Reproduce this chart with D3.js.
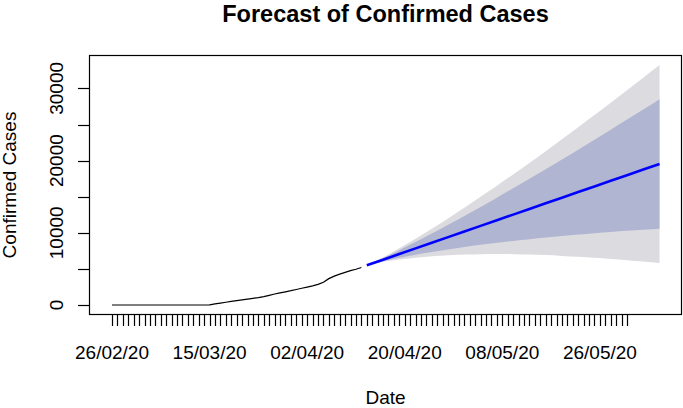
<!DOCTYPE html>
<html>
<head>
<meta charset="utf-8">
<script src="https://cdn.jsdelivr.net/npm/d3@7"></script>
<style>
  body { margin: 0; background: #fff; }
  svg { display: block; font-family: "Liberation Sans", Arial, sans-serif; }
</style>
</head>
<body>
<div id="chart"></div>
<script>
// observed confirmed cases, one per day starting 26/02/20
var startDate = '2020-02-26';
var observed = [
  0, 0, 0, 0, 0, 0, 0, 0, 0, 0, 0, 0, 0, 0, 0, 0, 0, 0,
  30, 150, 260, 380, 500, 600, 700, 810, 920, 1020, 1150, 1330,
  1520, 1680, 1830, 1980, 2150, 2320, 2480, 2650, 2850, 3150,
  3650, 4000, 4280, 4520, 4760, 4950, 5200
];

// forecast, every 3 days starting 13/04/20
var forecastStart = '2020-04-13';
var forecastStep = 3;
var fcMean = [5500, 6280, 7060, 7840, 8620, 9400, 10180, 10960, 11740, 12520, 13300, 14080, 14860, 15640, 16420, 17200, 17980, 18760, 19540];
var hi80 = [5500, 6490, 7580, 8710, 9890, 11100, 12330, 13590, 14870, 16170, 17480, 18810, 20160, 21520, 22890, 24280, 25680, 27090, 28510];
var lo80 = [5500, 6070, 6540, 6970, 7350, 7700, 8030, 8330, 8610, 8880, 9120, 9350, 9560, 9760, 9950, 10120, 10280, 10430, 10570];
var hi95 = [5500, 6600, 7850, 9180, 10560, 11990, 13460, 14980, 16520, 18090, 19680, 21310, 22950, 24620, 26310, 28020, 29740, 31490, 33250];
var lo95 = [5500, 5980, 6300, 6560, 6760, 6900, 6990, 7040, 7060, 7040, 6990, 6910, 6800, 6670, 6530, 6370, 6200, 6010, 5830];

var tickStart = '2020-02-26';
var tickEnd = '2020-05-31';
var labelEvery = 18;
var yTicks = [0, 5000, 10000, 15000, 20000, 25000, 30000];
var yLabels = [0, 10000, 20000, 30000];

var width = 683;
var height = 408;
var font = 19;

var parse = d3.utcParse('%Y-%m-%d');
var fmt = d3.utcFormat('%d/%m/%y');

var obsData = observed.map(function (v, i) {
  return { date: d3.utcDay.offset(parse(startDate), i), value: v };
});
var fcData = fcMean.map(function (v, i) {
  return {
    date: d3.utcDay.offset(parse(forecastStart), i * forecastStep),
    mean: v, hi80: hi80[i], lo80: lo80[i], hi95: hi95[i], lo95: lo95[i]
  };
});

var x = d3.scaleUtc()
  .domain([parse(tickStart), parse(tickEnd)])
  .range([112, 627]);

var y = d3.scaleLinear()
  .domain([0, 30000])
  .range([305, 88.4]);

var svg = d3.select('#chart')
  .append('svg')
  .attr('width', width)
  .attr('height', height);

// prediction bands
var band = function (lo, hi) {
  return d3.area()
    .x(function (d) { return x(d.date); })
    .y0(function (d) { return y(d[lo]); })
    .y1(function (d) { return y(d[hi]); })
    .curve(d3.curveMonotoneX);
};

svg.append('path')
  .datum(fcData)
  .attr('fill', '#dbdbe0')
  .attr('d', band('lo95', 'hi95'));

svg.append('path')
  .datum(fcData)
  .attr('fill', '#b0b5d1')
  .attr('d', band('lo80', 'hi80'));

// observed line
svg.append('path')
  .datum(obsData)
  .attr('fill', 'none')
  .attr('stroke', '#000')
  .attr('stroke-width', 1.2)
  .attr('d', d3.line()
    .x(function (d) { return x(d.date); })
    .y(function (d) { return y(d.value); }));

// forecast mean
svg.append('path')
  .datum(fcData)
  .attr('fill', 'none')
  .attr('stroke', '#0000ff')
  .attr('stroke-width', 2.6)
  .attr('d', d3.line()
    .x(function (d) { return x(d.date); })
    .y(function (d) { return y(d.mean); }));

// plot box
svg.append('rect')
  .attr('x', 89.5)
  .attr('y', 55.5)
  .attr('width', 592)
  .attr('height', 259)
  .attr('fill', 'none')
  .attr('stroke', '#000')
  .attr('stroke-width', 1.2);

// x axis: a tick every day, a label every 18 days
var days = d3.utcDay.range(parse(tickStart), d3.utcDay.offset(parse(tickEnd), 1));
var xAxis = svg.append('g').attr('transform', 'translate(0,315)');

xAxis.selectAll('line')
  .data(days)
  .enter()
  .append('line')
  .attr('x1', function (d) { return Math.round(x(d)) + 0.5; })
  .attr('x2', function (d) { return Math.round(x(d)) + 0.5; })
  .attr('y1', 0)
  .attr('y2', 11)
  .attr('stroke', '#000')
  .attr('stroke-width', 1.2);

xAxis.selectAll('text')
  .data(days.filter(function (d, i) { return i % labelEvery === 0; }))
  .enter()
  .append('text')
  .attr('x', function (d) { return x(d); })
  .attr('y', 44)
  .attr('text-anchor', 'middle')
  .attr('font-size', font)
  .text(fmt);

// y axis
var yAxis = svg.append('g');

yAxis.selectAll('line')
  .data(yTicks)
  .enter()
  .append('line')
  .attr('x1', 78)
  .attr('x2', 89)
  .attr('y1', function (d) { return Math.round(y(d)) + 0.5; })
  .attr('y2', function (d) { return Math.round(y(d)) + 0.5; })
  .attr('stroke', '#000')
  .attr('stroke-width', 1.2);

yAxis.selectAll('text')
  .data(yLabels)
  .enter()
  .append('text')
  .attr('transform', function (d) { return 'translate(63,' + y(d) + ') rotate(-90)'; })
  .attr('text-anchor', 'middle')
  .attr('font-size', font)
  .text(function (d) { return d; });

// titles
svg.append('text')
  .attr('x', 385.5)
  .attr('y', 22)
  .attr('text-anchor', 'middle')
  .attr('font-size', 23.5)
  .attr('font-weight', 'bold')
  .text('Forecast of Confirmed Cases');

svg.append('text')
  .attr('x', 385.5)
  .attr('y', 404)
  .attr('text-anchor', 'middle')
  .attr('font-size', font)
  .text('Date');

svg.append('text')
  .attr('transform', 'translate(16,185) rotate(-90)')
  .attr('text-anchor', 'middle')
  .attr('font-size', font)
  .text('Confirmed Cases');
</script>
</body>
</html>
